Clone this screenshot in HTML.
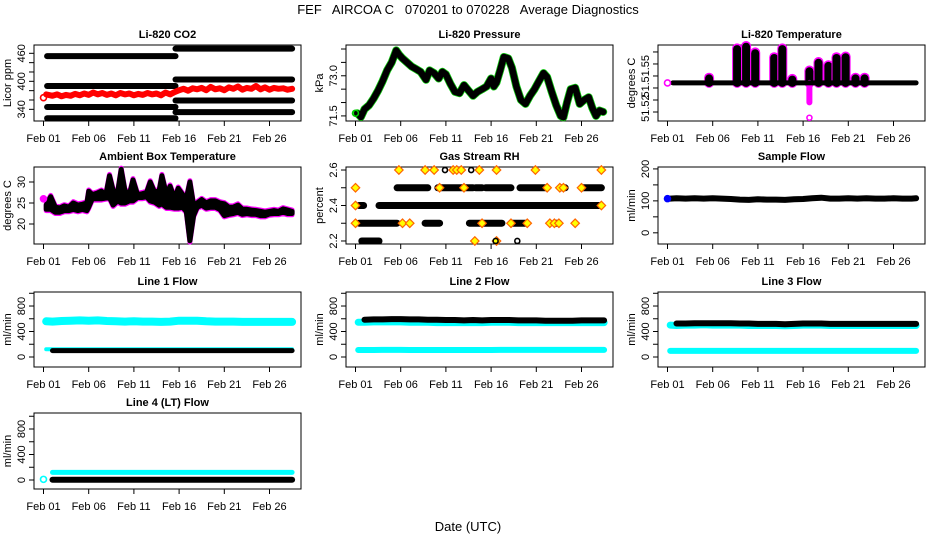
<!DOCTYPE html>
<html><head><meta charset="utf-8">
<style>
html,body{margin:0;padding:0;background:#fff;}
svg{display:block;font-family:"Liberation Sans",Arial,sans-serif;}
</style></head>
<body>
<svg id="chart" width="936" height="540" viewBox="0 0 936 540" xmlns="http://www.w3.org/2000/svg">
<rect width="936" height="540" fill="#fff"/>
<text x="468" y="14" text-anchor="middle" font-size="13" style="white-space:pre">FEF   AIRCOA C   070201 to 070228   Average Diagnostics</text>
<text x="468" y="531" text-anchor="middle" font-size="13">Date (UTC)</text>
</svg>
<script>
// ---------- data ----------
const xTickDays = [0,5,10,15,20,25];
const xTickLabels = ["Feb 01","Feb 06","Feb 11","Feb 16","Feb 21","Feb 26"];

// CO2
const co2LevelsBefore = [454, 390, 345, 321];
const co2LevelsAfter = [470, 404, 359, 334];
const co2SwitchDay = 14.6;
const co2RedDays = [0.3,1,1.5,2,2.5,3,3.5,4,4.5,5,5.5,6,6.5,7,7.5,8,8.5,9,9.5,10,10.5,11,11.5,12,12.5,13,13.5,14,14.5,15,15.5,16,16.5,17,17.5,18,18.5,19,19.5,20,20.5,21,21.5,22,22.5,23,23.5,24,24.5,25,25.5,26,26.5,27,27.5];
const co2RedVals = [372,369,372,368,371,369,373,370,374,371,376,372,375,371,374,370,375,372,374,370,373,371,375,372,374,370,376,372,377,381,384,380,385,383,386,381,388,383,385,381,387,384,389,382,386,384,390,383,387,382,386,384,385,382,384];

// Pressure
const presDays = [0.2,0.6,1,1.5,2,2.5,3,3.5,4,4.5,4.8,5.2,5.7,6.2,6.7,7.2,7.8,8.2,8.7,9.2,9.6,10,10.5,11,11.5,12,12.5,13,13.5,14,14.5,15,15.3,15.6,16,16.4,16.9,17.3,17.8,18.3,18.8,19.3,19.8,20.3,20.8,21.2,21.7,22.2,22.7,23,23.4,23.8,24.3,24.8,25.3,25.8,26.2,26.6,27,27.4];
const presVals = [71.6,71.46,71.75,71.9,72.15,72.45,72.8,73.2,73.5,73.95,73.8,73.65,73.5,73.35,73.25,73.15,72.85,73.2,73.1,72.9,73.15,73.05,72.7,72.4,72.35,72.65,72.45,72.25,72.4,72.5,72.6,72.9,72.6,72.75,73.2,73.7,73.65,73.3,72.6,72.1,71.95,72.25,72.5,72.8,73.1,72.95,72.4,71.9,71.5,71.45,72.0,72.5,72.55,71.95,72.1,72.2,71.8,71.5,71.7,71.65];

// Li-820 temperature
const tempBase = 51.5271;
const tempSpikeDays = [4.6,7.7,8.7,9.7,11.8,12.7,13.8,15.7,16.7,17.8,18.7,19.7,20.8,21.8];
const tempSpikeTops = [51.529,51.5412,51.5422,51.5395,51.5375,51.5412,51.5285,51.5320,51.5355,51.5342,51.5375,51.5378,51.5290,51.5290];
const tempDipDay = 15.7;
const tempDipBar = 51.519;
const tempDipVal = 51.5126;
const tempTickVals = [51.515,51.52,51.525,51.53,51.535,51.54];
const tempLabelVals = [51.5166,51.5242,51.5330];
const tempLabelText = ["51.52","51.","51.55"];

// Ambient box temperature
const ambDays = [0.3,0.8,1.3,1.8,2.3,2.8,3.3,3.8,4.3,4.8,5.0,5.4,5.9,6.4,6.9,7.3,7.7,8.2,8.6,9.0,9.5,9.9,10.4,10.9,11.4,11.8,12.3,12.8,13.1,13.6,14.0,14.5,14.9,15.4,15.8,16.2,16.6,17.0,17.5,18.0,18.5,19.0,19.5,20.0,20.5,21.0,21.5,22.0,22.5,23.0,23.5,24.0,24.5,25.0,25.5,26.0,26.5,27.0,27.5];
const ambLow = [23.5,23.5,22.8,22.8,23.2,23.2,23.5,23.2,23.5,23.2,24,26,26,26,26.2,26.3,24.5,25.5,25,25,25.5,25.5,26.3,26.3,26.5,25.5,25.2,24.5,24.8,24,24,23.8,23.8,24,23,16,22,24,24.5,23.8,24,24,23.5,22,22.3,22.5,22.8,22.3,22.5,22.3,22.3,22,22,22.4,22.5,22.5,22.8,22.5,22.5];
const ambHigh = [24.5,26.5,24,23.8,24.3,24,25,24.5,24.7,25,27.8,27,27.3,27.8,27,31.5,28,27.5,33,28,27,30.5,27,27.2,27.5,30,27.5,28,31.5,27,29,26,28.5,27,26,30,24.5,25,25.8,25,25.5,25.5,25,24.8,24,24,24.5,23.5,23.5,23.3,23.2,23,22.8,23,23.2,23,23.6,23.3,23];

// Gas stream RH: segments [start, end, level]
const rhSegStart = [4.6,9.1,13.3,14.4,18.2,22.8,25.0, 0.4,2.6, 0.4,7.7,12.6,17.3,22.1, 0.7];
const rhSegEnd   = [8.0,13.0,14.0,17.2,21.0,23.2,27.2, 0.9,27.0, 4.6,9.3,16.2,18.8,22.5, 2.6];
const rhSegLevel = [2.5,2.5,2.5,2.5,2.5,2.5,2.5, 2.4,2.4, 2.3,2.3,2.3,2.3,2.3, 2.2];
const rhDotDays = [4.8,7.7,8.7,10.8,11.2,11.7,13.7,15.6,19.9,27.2, 0,9.3,12.0,21.2,22.6,23.0,25.0, 0,27.2, 0,5.2,6.0,14.0,17.2,19.0,21.5,22.0,22.5,24.3, 13.2,15.6];
const rhDotVals = [2.6,2.6,2.6,2.6,2.6,2.6,2.6,2.6,2.6,2.6, 2.5,2.5,2.5,2.5,2.5,2.5,2.5, 2.4,2.4, 2.3,2.3,2.3,2.3,2.3,2.3,2.3,2.3,2.3,2.3, 2.2,2.2];
const rhOpenDays = [9.9,12.8,17.9,15.5];
const rhOpenVals = [2.6,2.6,2.2,2.2];

// Flows (daily values)
const flowDays = [0.3,1,2,3,4,5,6,7,8,9,10,11,12,13,14,15,16,17,18,19,20,21,22,23,24,25,26,27,27.5];
const sampleFlow = [107,108,107,108,107,108,107,106,104,103,105,104,104,103,105,106,108,110,107,107,108,107,108,107,107,108,107,107,108];
const line1Cyan = [560,555,565,570,575,570,575,565,560,555,560,555,555,550,555,570,570,570,560,555,555,555,550,550,550,550,550,550,550];
const line1Black = [100,100,100,100,100,100,100,100,100,100,100,100,100,100,100,100,100,100,100,100,100,100,100,100,100,100,100,100,100];
const line1CyanLow = [120,120,120,120,120,120,120,120,120,120,120,120,120,120,120,120,120,120,120,120,120,120,120,120,120,120,120,120,120];
const line2Black = [580,585,590,590,595,595,590,590,585,585,580,580,575,580,575,580,580,580,575,575,575,570,570,570,570,575,575,575,575];
const line2Cyan = [545,545,550,550,550,550,545,545,545,540,540,540,540,540,540,545,545,545,540,540,540,540,540,540,540,540,540,540,540];
const line2CyanLow = [110,110,110,112,112,112,110,110,110,110,110,110,110,110,110,110,112,112,112,112,112,112,112,112,112,112,112,112,112];
const line3Black = [520,525,525,530,530,530,530,530,525,525,520,520,520,515,520,525,525,525,520,520,520,520,520,520,520,520,520,520,520];
const line3Cyan = [500,495,500,500,505,500,500,500,500,495,495,495,495,490,495,500,500,500,495,495,495,495,495,495,495,495,495,495,495];
const line3CyanLow = [95,95,95,95,95,95,95,95,95,95,95,95,95,95,95,95,95,95,95,95,95,95,95,95,95,95,95,95,95];
const line4Cyan = [120,120,120,120,120,120,120,120,120,120,120,120,120,120,120,120,120,120,120,120,120,120,120,120,120,120,120,120,120];
const line4Black = [5,5,5,5,5,5,5,5,5,5,5,5,5,5,5,5,5,5,5,5,5,5,5,5,5,5,5,5,5];

// ---------- layout ----------
const NS = "http://www.w3.org/2000/svg";
const svg = document.getElementById("chart");
const colX = [34, 346, 658];
const rowY = [[45,121],[167,244],[292,367],[413,489]];
const W = 267, PX_PER_DAY = 9.04, DAY0_OFF = 9.5;

function mk(tag, attrs, parent){
  const e = document.createElementNS(NS, tag);
  for (const k in attrs) e.setAttribute(k, attrs[k]);
  (parent||svg).appendChild(e);
  return e;
}

function makePanel(col,row,title,ylab,ymin,ymax,yTicks,yLabels,name,labelVals){
  const x0 = colX[col], y0 = rowY[row][0], y1 = rowY[row][1];
  const g = mk("g",{});
  
  
  const P = {
    g, x0, y0, y1,
    X: d => x0 + DAY0_OFF + d*PX_PER_DAY,
    Y: v => y1 - (v-ymin)/(ymax-ymin)*(y1-y0)
  };
  const box = mk("rect",{x:x0,y:y0,width:W,height:y1-y0,fill:"none",stroke:"#000","stroke-width":1},g);
  
  
  const t = mk("text",{x:x0+W/2,y:y0-7,"text-anchor":"middle","font-size":11,"font-weight":"bold"},g);
  t.textContent = title;
  
  
  const yl = mk("text",{transform:`translate(${x0-23},${(y0+y1)/2}) rotate(-90)`,"text-anchor":"middle","font-size":11},g);
  yl.textContent = ylab;
  
  
  // x axis
  const xa = mk("g",{},g);
  
  
  mk("line",{x1:P.X(xTickDays[0]),x2:P.X(xTickDays[xTickDays.length-1]),y1:y1,y2:y1,stroke:"#000"},xa);
  xTickDays.forEach((d,i)=>{
    mk("line",{x1:P.X(d),x2:P.X(d),y1:y1,y2:y1+5,stroke:"#000"},xa);
    const tl = mk("text",{x:P.X(d),y:y1+21,"text-anchor":"middle","font-size":11},xa);
    tl.textContent = xTickLabels[i];
    
    
  });
  // y axis
  const ya = mk("g",{},g);
  
  
  yTicks.forEach((v,i)=>{
    mk("line",{x1:x0-5,x2:x0,y1:P.Y(v),y2:P.Y(v),stroke:"#000"},ya);
  });
  const lv = labelVals || yTicks;
  lv.forEach((v,i)=>{
    if (yLabels[i]) {
      const tl = mk("text",{transform:`translate(${x0-9},${P.Y(v)}) rotate(-90)`,"text-anchor":"middle","font-size":11},ya);
      tl.textContent = yLabels[i];
      
      
    }
  });
  return P;
}

function poly(P,days,vals,color,w,name,cap){
  const pts = days.map((d,i)=>P.X(d).toFixed(1)+","+P.Y(vals[i]).toFixed(1)).join(" ");
  const e = mk("polyline",{points:pts,fill:"none",stroke:color,"stroke-width":w,"stroke-linejoin":"round","stroke-linecap":cap||"round"},P.g);
  
  
  return e;
}
function dot(P,d,v,color,r,name,fill){
  const e = mk("circle",{cx:P.X(d),cy:P.Y(v),r:r,fill:fill||"none",stroke:color,"stroke-width":1.6},P.g);
  
  
  return e;
}
function band(P,days,lo,hi,color,name){
  const up = days.map((d,i)=>P.X(d).toFixed(1)+","+P.Y(hi[i]).toFixed(1));
  const dn = days.map((d,i)=>P.X(d).toFixed(1)+","+P.Y(lo[i]).toFixed(1)).reverse();
  const e = mk("polygon",{points:up.concat(dn).join(" "),fill:color,stroke:color,"stroke-width":5,"stroke-linejoin":"round"},P.g);
  
  
}

// ---------- panels ----------
// CO2
let P = makePanel(0,0,"Li-820 CO2","Licor ppm",315,477.8,[340,360,380,400,420,440,460],["340","","","400","","","460"],"co2");
co2LevelsBefore.forEach(v=>poly(P,[0.4,co2SwitchDay],[v,v],"#000",6,"co2-reference-level"));
co2LevelsAfter.forEach(v=>poly(P,[co2SwitchDay,27.5],[v,v],"#000",6,"co2-reference-level"));
poly(P,co2RedDays,co2RedVals,"#f00",6,"co2-sample-series");
dot(P,0,365,"#f00",3,"co2-first-point");

// Pressure
P = makePanel(1,0,"Li-820 Pressure","kPa",71.31,74.15,[71.5,72,72.5,73,73.5,74],["71.5","","","73.0","",""],"pressure");
poly(P,presDays,presVals,"#1c1",8,"pressure-green-series");
poly(P,presDays,presVals,"#000",6.5,"pressure-series");
dot(P,0,71.6,"#0c0",3,"pressure-first-point");

// Li-820 temperature
P = makePanel(2,0,"Li-820 Temperature","degrees C",51.51125,51.5429,tempTickVals,tempLabelText,"li820-temp",tempLabelVals);
tempSpikeDays.forEach((d,i)=>{
  poly(P,[d,d],[tempBase,tempSpikeTops[i]+0.0003],"#f0f",10,"temp-spike-magenta");
  poly(P,[d,d],[tempBase,tempSpikeTops[i]],"#000",8,"temp-spike");
});
poly(P,[tempDipDay,tempDipDay],[tempBase,tempDipBar],"#f0f",6,"temp-dip");
dot(P,tempDipDay,tempDipVal,"#f0f",2.5,"temp-dip-point");
poly(P,[0.6,27.5],[tempBase,tempBase],"#000",5,"temp-baseline");
dot(P,0,tempBase,"#f0f",3,"temp-first-point");

// Ambient box temperature
P = makePanel(0,1,"Ambient Box Temperature","degrees C",15.24,33.57,[20,25,30],["20","25","30"],"ambient-temp");
band(P,ambDays,ambLow.map(v=>v-0.3),ambHigh.map(v=>v+0.3),"#f0f","ambient-temp-magenta");
band(P,ambDays,ambLow,ambHigh,"#000","ambient-temp-band");
dot(P,0,26,"#f0f",3,"ambient-first-point","#f0f");

// Gas stream RH
P = makePanel(1,1,"Gas Stream RH","percent",2.183,2.617,[2.2,2.3,2.4,2.5,2.6],["2.2","","2.4","","2.6"],"rh");
rhSegStart.forEach((s,i)=>poly(P,[s,rhSegEnd[i]],[rhSegLevel[i],rhSegLevel[i]],"#000",7,"rh-segment"));
rhDotDays.forEach((d,i)=>{
  const e = mk("rect",{x:P.X(d)-3,y:P.Y(rhDotVals[i])-3,width:6,height:6,fill:"#ff0",stroke:"#f60","stroke-width":1.2,transform:`rotate(45 ${P.X(d)} ${P.Y(rhDotVals[i])})`},P.g);
  
  
});
rhOpenDays.forEach((d,i)=>dot(P,d,rhOpenVals[i],"#000",2.5,"rh-open-point"));

// Sample flow
P = makePanel(2,1,"Sample Flow","ml/min",-35,206,[0,50,100,150,200],["0","","100","","200"],"sample-flow");
poly(P,flowDays,sampleFlow,"#000",6,"sample-flow-series");
dot(P,0,107,"#00f",3,"sample-flow-first-point","#00f");

// Line flows
const fTicks=[0,200,400,600,800,1000], fLab=["0","","400","","800",""];
P = makePanel(0,2,"Line 1 Flow","ml/min",-157,1020,fTicks,fLab,"line1-flow");
poly(P,flowDays,line1Cyan,"#0ff",8,"line1-cyan-series");
poly(P,flowDays,line1CyanLow,"#0ff",4,"line1-cyan-low-series");
poly(P,flowDays.slice(1),line1Black.slice(1),"#000",5,"line1-black-series");
P = makePanel(1,2,"Line 2 Flow","ml/min",-157,1020,fTicks,fLab,"line2-flow");
poly(P,flowDays,line2Cyan,"#0ff",7,"line2-cyan-series");
poly(P,flowDays,line2CyanLow,"#0ff",6,"line2-cyan-low-series");
poly(P,flowDays.slice(1),line2Black.slice(1),"#000",6,"line2-black-series");
P = makePanel(2,2,"Line 3 Flow","ml/min",-157,1020,fTicks,fLab,"line3-flow");
poly(P,flowDays,line3Cyan,"#0ff",7,"line3-cyan-series");
poly(P,flowDays,line3CyanLow,"#0ff",6,"line3-cyan-low-series");
poly(P,flowDays.slice(1),line3Black.slice(1),"#000",6,"line3-black-series");
P = makePanel(0,3,"Line 4 (LT) Flow","ml/min",-141,1051,fTicks,fLab,"line4-flow");
poly(P,flowDays.slice(1),line4Cyan.slice(1),"#0ff",5,"line4-cyan-series");
poly(P,flowDays.slice(1),line4Black.slice(1),"#000",6,"line4-black-series");
dot(P,0,10,"#0ff",3,"line4-first-point");
</script>
</body></html>
